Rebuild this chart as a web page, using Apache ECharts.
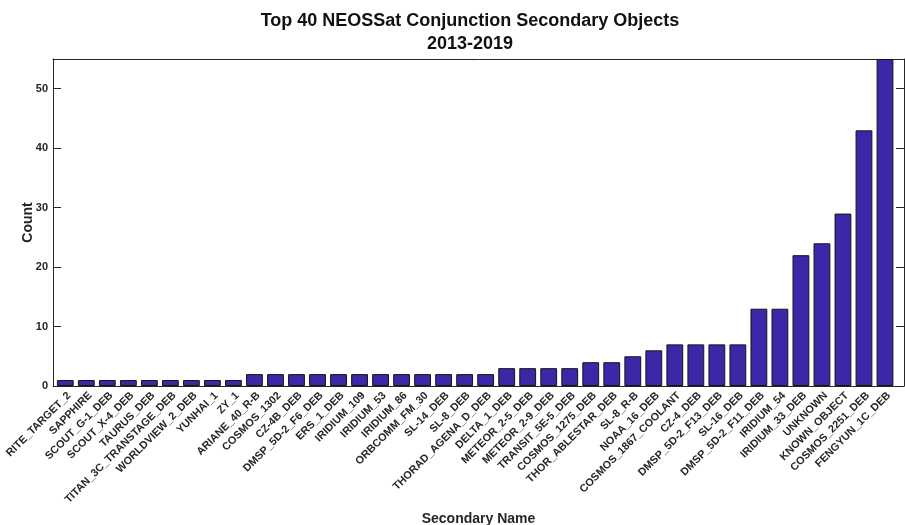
<!DOCTYPE html>
<html>
<head>
<meta charset="utf-8">
<script src="https://cdn.jsdelivr.net/npm/echarts@6/dist/echarts.min.js"></script>
<style>
  html, body { margin: 0; padding: 0; background: #fff; }
  #chart { width: 905px; height: 525px; }
</style>
</head>
<body>
<div id="chart"></div>
<script>
// secondary object names, in plot order
const names = [
  'RITE_TARGET_2', 'SAPPHIRE', 'SCOUT_G-1_DEB', 'SCOUT_X-4_DEB', 'TAURUS_DEB',
  'TITAN_3C_TRANSTAGE_DEB', 'WORLDVIEW_2_DEB', 'YUNHAI_1', 'ZY_1', 'ARIANE_40_R-B',
  'COSMOS_1302', 'CZ-4B_DEB', 'DMSP_5D-2_F6_DEB', 'ERS_1_DEB', 'IRIDIUM_109',
  'IRIDIUM_53', 'IRIDIUM_86', 'ORBCOMM_FM_30', 'SL-14_DEB', 'SL-8_DEB',
  'THORAD_AGENA_D_DEB', 'DELTA_1_DEB', 'METEOR_2-5_DEB', 'METEOR_2-9_DEB', 'TRANSIT_5E-5_DEB',
  'COSMOS_1275_DEB', 'THOR_ABLESTAR_DEB', 'SL-8_R-B', 'NOAA_16_DEB', 'COSMOS_1867_COOLANT',
  'CZ-4_DEB', 'DMSP_5D-2_F13_DEB', 'SL-16_DEB', 'DMSP_5D-2_F11_DEB', 'IRIDIUM_54',
  'IRIDIUM_33_DEB', 'UNKNOWN', 'KNOWN_OBJECT', 'COSMOS_2251_DEB', 'FENGYUN_1C_DEB'
]
// conjunction counts
const counts = [
  1, 1, 1, 1, 1, 1, 1, 1, 1, 2,
  2, 2, 2, 2, 2, 2, 2, 2, 2, 2,
  2, 3, 3, 3, 3, 4, 4, 5, 6, 7,
  7, 7, 7, 13, 13, 22, 24, 29, 43, 55
]
const yTicks = [0, 10, 20, 30, 40, 50]

const ink = '#262626'
const font = 'Liberation Sans, Arial, sans-serif'

const chart = echarts.init(document.getElementById('chart'))

const option = {
  animation: false,
  textStyle: { fontFamily: font },
  title: {
    text: 'Top 40 NEOSSat Conjunction Secondary Objects\n2013-2019',
    left: 465,
    top: 5,
    textAlign: 'center',
    textStyle: { fontSize: 18, fontWeight: 'bold', color: '#111', lineHeight: 23, fontFamily: font }
  },
  grid: [
    // bars
    { left: 54.8, right: 9.5, top: 59, bottom: 139, outerBoundsMode: 'none' },
    // frame box
    { left: 53, right: 1, top: 59, bottom: 139, outerBoundsMode: 'none' }
  ],
  xAxis: [
    {
      gridIndex: 0,
      type: 'category',
      data: names,
      z: 5,
      axisLine: { show: false },
      axisTick: { inside: true, alignWithLabel: true, length: 8, lineStyle: { color: ink } },
      axisLabel: {
        rotate: 45, interval: 0, margin: 4, verticalAlign: 'top',
        fontSize: 10.8, fontWeight: 'bold', color: ink, fontFamily: font
      }
    },
    {
      gridIndex: 0,
      type: 'category',
      data: names,
      position: 'top',
      z: 5,
      axisLine: { show: false },
      axisTick: { inside: true, alignWithLabel: true, length: 8, lineStyle: { color: ink } },
      axisLabel: { show: false }
    },
    {
      gridIndex: 1,
      type: 'value',
      min: 0, max: 1,
      name: 'Secondary Name',
      nameLocation: 'middle',
      nameGap: 126,
      nameMoveOverlap: false,
      nameTextStyle: { fontSize: 14, fontWeight: 'bold', color: ink, fontFamily: font },
      axisLine: { show: true, onZero: false, lineStyle: { color: ink } },
      axisTick: { show: false },
      axisLabel: { show: false },
      splitLine: { show: false }
    },
    {
      gridIndex: 1,
      type: 'value',
      min: 0, max: 1,
      position: 'top',
      axisLine: { show: true, onZero: false, lineStyle: { color: ink } },
      axisTick: { show: false },
      axisLabel: { show: false },
      splitLine: { show: false }
    }
  ],
  yAxis: [
    {
      gridIndex: 0,
      type: 'value',
      min: 0, max: 55,
      show: false
    },
    {
      gridIndex: 1,
      type: 'value',
      min: 0, max: 55,
      interval: 10,
      name: 'Count',
      nameLocation: 'middle',
      nameGap: 18,
      nameMoveOverlap: false,
      nameTextStyle: { fontSize: 14, fontWeight: 'bold', color: ink, fontFamily: font },
      z: 5,
      axisLine: { show: true, onZero: false, lineStyle: { color: ink } },
      axisTick: { inside: true, length: 8, lineStyle: { color: ink } },
      axisLabel: {
        fontSize: 11, fontWeight: 'bold', color: ink, margin: 5, fontFamily: font,
        formatter: v => (yTicks.includes(v) ? String(v) : '')
      },
      splitLine: { show: false }
    },
    {
      gridIndex: 1,
      type: 'value',
      min: 0, max: 55,
      interval: 10,
      position: 'right',
      z: 5,
      axisLine: { show: true, onZero: false, lineStyle: { color: ink } },
      axisTick: { inside: true, length: 8, lineStyle: { color: ink } },
      axisLabel: { show: false },
      splitLine: { show: false }
    }
  ],
  series: [
    {
      type: 'bar',
      xAxisIndex: 0,
      yAxisIndex: 0,
      data: counts,
      barWidth: '80%',
      itemStyle: { color: '#3c27a8', borderColor: '#141414', borderWidth: 1 }
    }
  ]
}

chart.setOption(option)
</script>
</body>
</html>
